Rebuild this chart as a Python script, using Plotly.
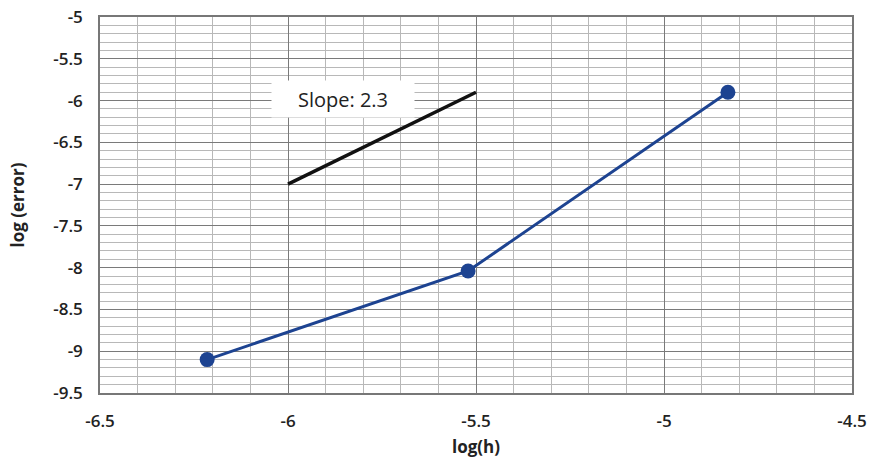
import plotly.graph_objects as go

log_h = [-6.215, -5.521, -4.830]
log_error = [-9.10, -8.04, -5.90]

slope_x = [-6.0, -5.5]
slope_y = [-7.0, -5.9]
slope_label = "Slope: 2.3"

x_ticks = [-6.5, -6.0, -5.5, -5.0, -4.5]
x_ticktext = ["-6.5", "-6", "-5.5", "-5", "-4.5"]
y_ticks = [-9.5, -9.0, -8.5, -8.0, -7.5, -7.0, -6.5, -6.0, -5.5, -5.0]
y_ticktext = ["-9.5", "-9", "-8.5", "-8", "-7.5", "-7", "-6.5", "-6", "-5.5", "-5"]

x_title = "log(h)"
y_title = "log (error)"

font_family = "Open Sans, Noto Sans, Liberation Sans, sans-serif"

fig = go.Figure()
fig.add_trace(go.Scatter(
    x=slope_x, y=slope_y, mode="lines",
    line=dict(color="#111111", width=3.5),
    showlegend=False, hoverinfo="skip"))
fig.add_trace(go.Scatter(
    x=log_h, y=log_error, mode="lines+markers",
    line=dict(color="#1d4391", width=3),
    marker=dict(color="#1d4391", size=15),
    showlegend=False))

fig.add_annotation(
    x=-5.854, y=-5.98, xref="x", yref="y", text=slope_label,
    showarrow=False, bgcolor="white",
    width=140, height=34, align="center",
    font=dict(family=font_family, size=20, color="#222222"),
    borderpad=1)

axis_common = dict(
    showline=True, linecolor="#777777", linewidth=1.5, mirror=True,
    gridcolor="#7a7a7a", gridwidth=1, zeroline=False, automargin=False,
    tickfont=dict(family=font_family, size=17, color="#222222", weight=600),
    ticks="", ticklabelstandoff=12,
)

fig.update_layout(
    width=872, height=460,
    margin=dict(l=100, r=20, t=17, b=67),
    paper_bgcolor="white", plot_bgcolor="white",
    xaxis=dict(
        range=[-6.5, -4.5], tickmode="array", tickvals=x_ticks, ticktext=x_ticktext,
        minor=dict(dtick=0.1, tick0=-6.5, showgrid=True, gridcolor="#b8b8b8", gridwidth=1),
        title=dict(text="<b>" + x_title + "</b>", standoff=10,
                   font=dict(family=font_family, size=17, color="#222222")),
        **axis_common),
    yaxis=dict(
        range=[-9.5, -5], tickmode="array", tickvals=y_ticks, ticktext=y_ticktext,
        minor=dict(dtick=0.1, tick0=-9.5, showgrid=True, gridcolor="#b8b8b8", gridwidth=1),
        title=dict(text="<b>" + y_title + "</b>", standoff=24,
                   font=dict(family=font_family, size=17, color="#222222")),
        **axis_common),
)

fig.write_html("out.html")
